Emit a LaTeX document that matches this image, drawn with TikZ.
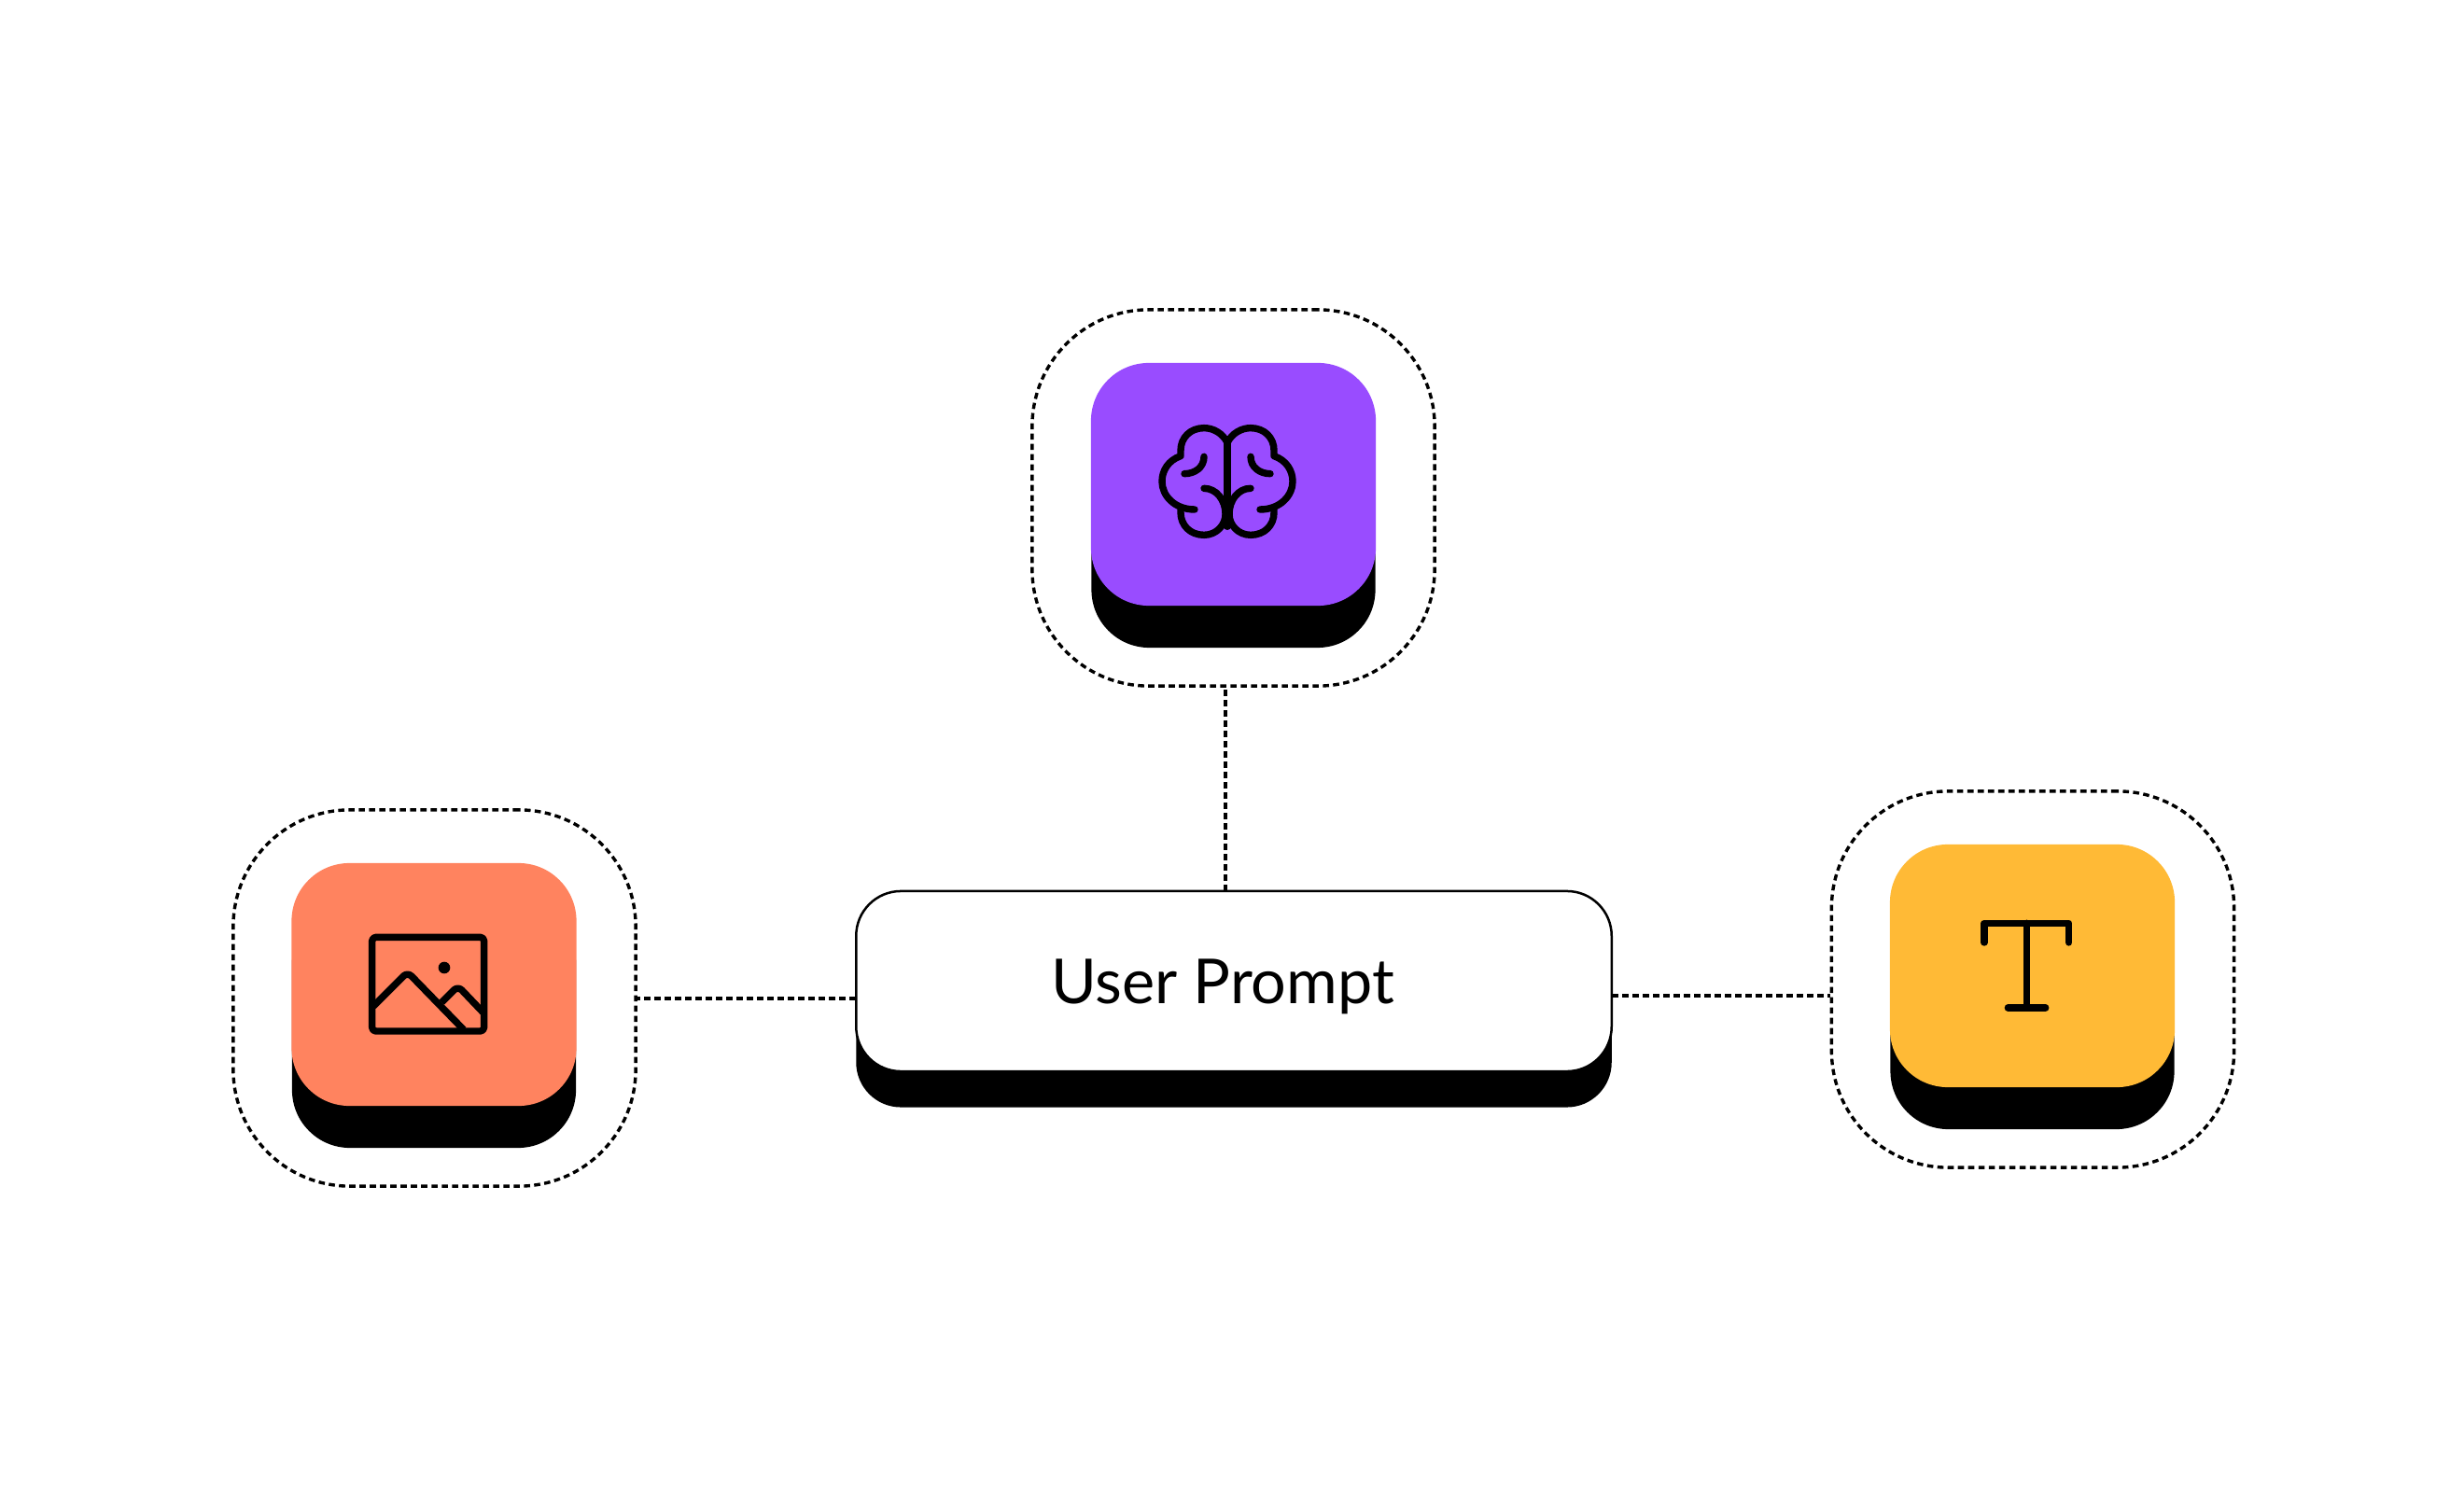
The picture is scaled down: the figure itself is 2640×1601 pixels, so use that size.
\documentclass[tikz,border=0pt]{standalone}
\usepackage{fontspec}
\setmainfont{Lato}
\usepackage{tikz}
\usetikzlibrary{positioning}
\definecolor{brainpurple}{HTML}{994CFF}
\definecolor{imageorange}{HTML}{FF835F}
\definecolor{textyellow}{HTML}{FFBA36}
\tikzset{>=stealth}
\tikzset{
    tileframe/.style={draw=black, line width=0.034cm, dash pattern=on 0.066cm off 0.044cm, rounded corners=1.25cm, minimum width=4.31cm, minimum height=4.03cm, inner sep=0pt},
    tileface/.style={fill=#1, rounded corners=0.62cm, minimum width=3.05cm, minimum height=2.6cm, inner sep=0pt},
    tileshadow/.style={fill=black, rounded corners=0.62cm, minimum width=3.04cm, minimum height=2.6cm, inner sep=0pt},
    promptface/.style={rounded corners=0.48cm, minimum width=8.09cm, minimum height=1.93cm, inner sep=0pt},
    wire/.style={draw=black, line width=0.034cm, dash pattern=on 0.066cm off 0.044cm},
    iconline/.style={line width=0.074cm, line cap=round, line join=round},
}

\begin{document}
\begin{tikzpicture}[x=0.01cm, y=-0.01cm]
    \useasboundingbox (0,0) rectangle (2640,1601);
    \fill[white] (0,0) rectangle (2640,1601);
    \node[tileframe] (brainframe) at (1321.5,533.5){};
    \node[tileframe] (imageframe) at (465.5,1069.5){};
    \node[tileframe] (textframe) at (2178,1049.5){};
    \node[tileshadow] (brainshadow) at (1321.5,564){};
    \node[tileshadow] (imageshadow) at (465,1100){};
    \node[tileshadow] (textshadow) at (2177.5,1080){};
    \node[tileface=brainpurple] (brainface) at (1321.5,519){};
    \node[tileface=imageorange] (imageface) at (465,1055){};
    \node[tileface=textyellow] (textface) at (2177.5,1035){};
    \node[promptface, fill=black] (promptshadow) at (1322,1090){};
    \node[promptface, draw=black, line width=0.025cm, fill=white] (prompt) at (1322,1051.5){};
    \node[anchor=base, font=\fontsize{18.9pt}{20pt}\selectfont] (promptlabel) at (1310,1075){User Prompt};
    \coordinate (prompttop) at (1313,955);
    \coordinate (promptleft) at (917,1070);
    \coordinate (promptright) at (1727,1067);
    \draw[wire] (prompttop) -- (prompttop |- brainframe.south);
    \draw[wire] (promptleft) -- (promptleft -| imageframe.east);
    \draw[wire] (promptright) -- (promptright -| textframe.west);
    \begin{scope}[shift={(1315,516)}, scale=1/3, iconline]
        \draw (0,-125) -- (0,145);
        \foreach \side in {1,-1} {
            \begin{scope}[xscale=\side]
                \draw (0,-125) .. controls (15,-155) and (45,-172) .. (75,-172) .. controls (120,-172) and (150,-140) .. (150,-100) -- (150,-82) .. controls (190,-68) and (210,-35) .. (210,0) .. controls (210,45) and (170,90) .. (105,90);
                \draw (150,92) -- (150,100) .. controls (150,140) and (120,172) .. (75,172) .. controls (35,172) and (6,140) .. (6,105) .. controls (6,60) and (35,22) .. (75,22);
                \draw (75,-80) .. controls (75,-45) and (105,-25) .. (138,-25);
            \end{scope}
        }
    \end{scope}
    \begin{scope}[shift={(230,850)}, scale=1/3, iconline]
        \draw[rounded corners=0.04cm] (506,463) rectangle (866,765);
        \draw[line cap=butt, rounded corners=0.06cm] (510,685) -- (620,575) -- (800,760);
        \draw[line cap=butt, rounded corners=0.06cm] (730,672) -- (782,620) -- (862,704);
        \fill (738,561) circle (19);
    \end{scope}
    \begin{scope}[shift={(1950,830)}, scale=1/3, iconline]
        \draw (528,540) -- (528,478) -- (800,478) -- (800,540);
        \draw (665,478) -- (665,750);
        \draw (604,750) -- (725,750);
    \end{scope}
\end{tikzpicture}
\end{document}
